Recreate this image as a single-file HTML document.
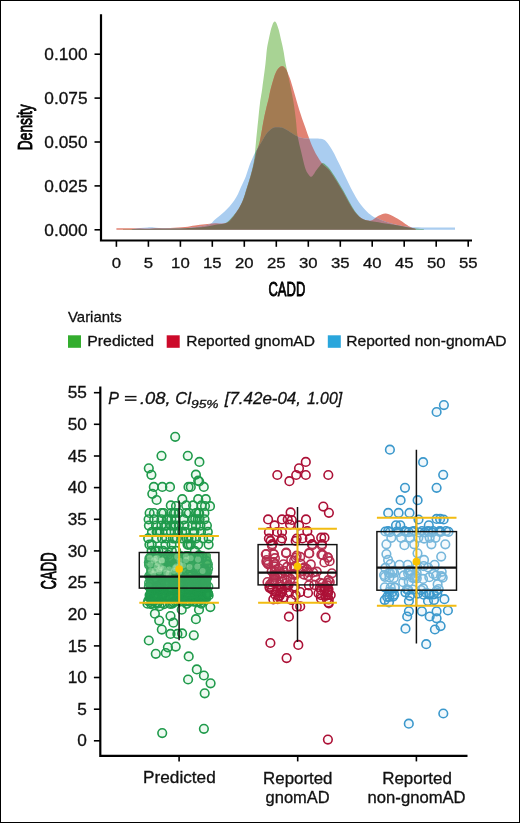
<!DOCTYPE html><html><head><meta charset="utf-8"><style>html,body{margin:0;padding:0;background:#fff;}svg{display:block;will-change:transform}</style></head><body>
<svg width="520" height="823" viewBox="0 0 520 823">
<rect x="0.5" y="0.5" width="519" height="822" fill="#fff" stroke="#000" stroke-width="1"/>
<defs><clipPath id="cg"><path d="M123.0,229.8 L123.0,229.2 C125.8,229.2 133.8,229.1 140.0,229.0 C146.2,228.9 153.3,228.8 160.0,228.7 C166.7,228.6 174.2,228.6 180.0,228.4 C185.8,228.2 190.5,228.1 195.0,227.8 C199.5,227.5 203.3,227.1 207.0,226.5 C210.7,225.9 213.7,225.2 217.0,224.5 C220.3,223.8 223.7,224.4 227.0,222.2 C230.3,219.9 234.4,214.6 237.0,211.0 C239.6,207.4 241.1,204.1 242.7,200.4 C244.3,196.7 245.2,192.8 246.5,188.8 C247.8,184.8 249.3,180.3 250.4,176.3 C251.5,172.3 252.6,168.4 253.3,164.8 C254.0,161.2 254.4,158.8 254.8,155.0 C255.2,151.2 255.4,147.6 256.0,141.8 C256.6,136.0 257.5,126.5 258.2,120.0 C258.9,113.5 259.3,108.3 260.0,103.0 C260.7,97.7 261.4,94.6 262.3,88.0 C263.2,81.4 264.8,69.9 265.5,63.6 C266.2,57.3 266.3,53.9 266.8,50.0 C267.3,46.1 267.9,43.3 268.6,40.0 C269.3,36.7 270.2,32.5 270.8,30.0 C271.4,27.5 271.9,26.4 272.3,25.2 C272.8,23.9 273.1,23.1 273.5,22.5 C273.9,21.9 274.3,21.5 274.8,21.5 C275.2,21.5 275.6,21.9 276.0,22.5 C276.4,23.1 276.7,23.9 277.2,25.2 C277.7,26.4 278.1,27.5 278.8,30.0 C279.5,32.5 280.4,36.7 281.1,40.0 C281.9,43.3 282.6,46.1 283.3,50.0 C284.1,53.9 284.7,58.9 285.6,63.6 C286.5,68.3 287.4,71.8 288.7,78.0 C290.0,84.2 292.1,94.0 293.3,101.0 C294.5,108.0 295.2,114.2 295.9,120.0 C296.6,125.8 296.6,130.5 297.5,135.8 C298.4,141.1 299.9,146.3 301.1,151.6 C302.4,156.9 303.8,163.6 305.0,167.4 C306.2,171.2 307.4,172.9 308.5,174.5 C309.6,176.1 310.4,176.9 311.3,176.8 C312.2,176.7 313.2,175.0 314.0,174.0 C314.8,173.0 315.1,172.0 316.1,170.6 C317.1,169.2 318.9,166.8 320.0,165.5 C321.1,164.2 321.7,163.2 322.6,163.1 C323.5,163.0 324.4,163.9 325.5,164.8 C326.6,165.8 327.7,166.4 329.5,168.8 C331.3,171.2 334.2,175.5 336.5,179.2 C338.8,182.9 341.1,186.8 343.4,190.8 C345.7,194.9 348.2,199.8 350.3,203.5 C352.4,207.2 354.2,210.2 356.1,212.7 C358.0,215.2 359.7,217.2 361.8,218.5 C363.9,219.8 365.1,220.1 368.5,220.8 C371.9,221.5 377.5,222.2 382.0,222.9 C386.5,223.6 391.4,224.2 395.4,224.9 C399.4,225.6 402.6,226.3 406.0,226.9 C409.4,227.5 412.6,228.1 415.6,228.5 C418.6,228.9 422.6,229.1 424.0,229.2 L424.0,229.8 Z"/></clipPath><clipPath id="cr"><path d="M116.4,229.8 L116.4,228.3 C118.7,228.3 124.4,228.2 130.0,228.2 C135.6,228.2 143.3,228.4 150.0,228.4 C156.7,228.4 164.2,228.2 170.0,228.0 C175.8,227.8 180.8,227.4 185.0,227.0 C189.2,226.6 191.7,225.9 195.0,225.5 C198.3,225.1 201.7,224.7 205.0,224.3 C208.3,223.9 211.2,223.6 215.0,223.3 C218.8,223.0 223.8,224.5 227.5,222.5 C231.2,220.5 234.5,214.8 237.1,211.2 C239.7,207.5 241.3,204.3 242.9,200.6 C244.5,196.9 245.4,193.0 246.7,189.0 C248.0,185.0 249.4,180.5 250.6,176.5 C251.8,172.5 252.6,169.1 253.6,165.0 C254.6,160.9 255.5,155.9 256.5,152.0 C257.5,148.1 258.5,147.1 259.7,141.8 C260.9,136.5 262.6,125.6 263.7,120.0 C264.8,114.4 265.4,111.7 266.3,108.0 C267.2,104.3 268.1,101.2 268.8,98.0 C269.5,94.8 269.8,92.4 270.7,89.0 C271.6,85.6 272.9,80.8 274.0,77.5 C275.1,74.2 276.2,71.4 277.5,69.5 C278.8,67.6 280.4,66.4 281.7,66.2 C283.0,66.0 284.1,66.5 285.5,68.5 C286.9,70.5 288.5,74.6 289.8,78.1 C291.1,81.6 292.2,85.8 293.3,89.6 C294.4,93.4 295.6,97.3 296.7,101.2 C297.8,105.1 299.2,109.6 300.2,112.7 C301.2,115.8 301.7,117.5 302.6,120.0 C303.5,122.5 304.6,125.4 305.5,128.0 C306.4,130.6 307.1,132.8 308.2,135.8 C309.3,138.8 310.7,142.7 312.1,146.0 C313.6,149.3 315.3,152.8 316.9,155.6 C318.5,158.4 320.2,160.9 321.6,162.7 C323.0,164.5 323.7,165.0 325.0,166.3 C326.3,167.6 327.6,168.1 329.5,170.5 C331.4,172.9 334.2,177.3 336.5,181.0 C338.8,184.7 341.1,188.5 343.4,192.5 C345.7,196.5 348.2,201.5 350.3,205.0 C352.4,208.5 354.2,211.2 356.1,213.5 C358.1,215.8 360.0,217.3 362.0,218.5 C364.0,219.7 366.2,220.3 368.0,220.6 C369.8,220.8 370.7,220.8 372.5,220.0 C374.3,219.2 376.8,216.7 379.0,215.6 C381.2,214.5 383.3,213.2 386.0,213.5 C388.7,213.8 392.7,216.2 395.4,217.5 C398.1,218.8 399.9,220.1 402.1,221.5 C404.3,222.9 406.6,224.9 408.8,226.2 C411.1,227.4 414.5,228.5 415.6,229.0 L415.6,229.8 Z"/></clipPath><clipPath id="cb"><path d="M132.0,229.8 L132.0,229.2 C133.3,229.0 137.3,228.3 140.0,228.0 C142.7,227.7 145.3,227.5 148.0,227.4 C150.7,227.3 152.3,227.5 156.0,227.7 C159.7,227.9 165.2,228.3 170.0,228.4 C174.8,228.5 180.3,228.5 185.0,228.2 C189.7,227.9 194.5,227.3 198.0,226.8 C201.5,226.3 203.8,225.9 206.0,225.3 C208.2,224.8 209.5,224.5 211.0,223.5 C212.5,222.5 213.5,220.8 215.0,219.5 C216.5,218.2 218.4,216.8 220.0,215.5 C221.6,214.2 223.0,213.0 224.6,211.5 C226.2,210.0 227.9,208.3 229.5,206.5 C231.1,204.7 232.8,202.7 234.2,200.6 C235.6,198.5 236.9,196.2 238.0,194.0 C239.1,191.8 239.7,190.0 241.0,187.1 C242.3,184.2 244.4,180.2 245.8,176.5 C247.2,172.8 248.1,168.9 249.6,165.0 C251.1,161.1 253.1,156.6 255.0,153.0 C256.9,149.4 259.0,146.4 260.8,143.3 C262.6,140.2 264.5,136.7 266.0,134.5 C267.5,132.3 268.7,131.2 270.0,130.0 C271.3,128.8 272.7,128.1 274.0,127.6 C275.3,127.1 276.5,127.1 278.0,127.2 C279.5,127.3 281.0,127.2 283.0,128.0 C285.0,128.8 287.8,130.6 290.0,131.9 C292.2,133.2 294.3,134.9 296.0,135.8 C297.7,136.7 298.5,137.1 300.0,137.5 C301.5,137.9 303.0,138.2 305.0,138.4 C307.0,138.6 309.8,138.6 312.0,138.6 C314.2,138.6 316.1,138.4 318.0,138.6 C319.9,138.8 321.9,138.9 323.5,139.6 C325.1,140.3 325.9,141.0 327.5,143.0 C329.1,145.0 331.1,148.2 333.0,151.5 C334.9,154.8 336.7,158.8 338.8,163.0 C340.9,167.2 343.2,172.3 345.5,176.9 C347.8,181.5 350.1,186.6 352.3,190.8 C354.6,195.0 356.6,198.9 359.0,202.3 C361.4,205.8 364.4,209.1 366.8,211.5 C369.2,213.9 371.5,215.5 373.4,216.7 C375.3,217.9 376.1,217.7 378.0,218.5 C379.9,219.3 382.2,220.5 385.0,221.5 C387.8,222.5 391.7,223.7 395.0,224.5 C398.3,225.3 401.7,226.0 405.0,226.5 C408.3,227.0 410.8,227.2 415.0,227.3 C419.2,227.5 423.3,227.4 430.0,227.4 C436.7,227.4 450.8,227.4 455.0,227.4 L455.0,229.8 Z"/></clipPath></defs>
<path d="M123.0,229.8 L123.0,229.2 C125.8,229.2 133.8,229.1 140.0,229.0 C146.2,228.9 153.3,228.8 160.0,228.7 C166.7,228.6 174.2,228.6 180.0,228.4 C185.8,228.2 190.5,228.1 195.0,227.8 C199.5,227.5 203.3,227.1 207.0,226.5 C210.7,225.9 213.7,225.2 217.0,224.5 C220.3,223.8 223.7,224.4 227.0,222.2 C230.3,219.9 234.4,214.6 237.0,211.0 C239.6,207.4 241.1,204.1 242.7,200.4 C244.3,196.7 245.2,192.8 246.5,188.8 C247.8,184.8 249.3,180.3 250.4,176.3 C251.5,172.3 252.6,168.4 253.3,164.8 C254.0,161.2 254.4,158.8 254.8,155.0 C255.2,151.2 255.4,147.6 256.0,141.8 C256.6,136.0 257.5,126.5 258.2,120.0 C258.9,113.5 259.3,108.3 260.0,103.0 C260.7,97.7 261.4,94.6 262.3,88.0 C263.2,81.4 264.8,69.9 265.5,63.6 C266.2,57.3 266.3,53.9 266.8,50.0 C267.3,46.1 267.9,43.3 268.6,40.0 C269.3,36.7 270.2,32.5 270.8,30.0 C271.4,27.5 271.9,26.4 272.3,25.2 C272.8,23.9 273.1,23.1 273.5,22.5 C273.9,21.9 274.3,21.5 274.8,21.5 C275.2,21.5 275.6,21.9 276.0,22.5 C276.4,23.1 276.7,23.9 277.2,25.2 C277.7,26.4 278.1,27.5 278.8,30.0 C279.5,32.5 280.4,36.7 281.1,40.0 C281.9,43.3 282.6,46.1 283.3,50.0 C284.1,53.9 284.7,58.9 285.6,63.6 C286.5,68.3 287.4,71.8 288.7,78.0 C290.0,84.2 292.1,94.0 293.3,101.0 C294.5,108.0 295.2,114.2 295.9,120.0 C296.6,125.8 296.6,130.5 297.5,135.8 C298.4,141.1 299.9,146.3 301.1,151.6 C302.4,156.9 303.8,163.6 305.0,167.4 C306.2,171.2 307.4,172.9 308.5,174.5 C309.6,176.1 310.4,176.9 311.3,176.8 C312.2,176.7 313.2,175.0 314.0,174.0 C314.8,173.0 315.1,172.0 316.1,170.6 C317.1,169.2 318.9,166.8 320.0,165.5 C321.1,164.2 321.7,163.2 322.6,163.1 C323.5,163.0 324.4,163.9 325.5,164.8 C326.6,165.8 327.7,166.4 329.5,168.8 C331.3,171.2 334.2,175.5 336.5,179.2 C338.8,182.9 341.1,186.8 343.4,190.8 C345.7,194.9 348.2,199.8 350.3,203.5 C352.4,207.2 354.2,210.2 356.1,212.7 C358.0,215.2 359.7,217.2 361.8,218.5 C363.9,219.8 365.1,220.1 368.5,220.8 C371.9,221.5 377.5,222.2 382.0,222.9 C386.5,223.6 391.4,224.2 395.4,224.9 C399.4,225.6 402.6,226.3 406.0,226.9 C409.4,227.5 412.6,228.1 415.6,228.5 C418.6,228.9 422.6,229.1 424.0,229.2 L424.0,229.8 Z" fill="#a8d394"/>
<path d="M116.4,229.8 L116.4,228.3 C118.7,228.3 124.4,228.2 130.0,228.2 C135.6,228.2 143.3,228.4 150.0,228.4 C156.7,228.4 164.2,228.2 170.0,228.0 C175.8,227.8 180.8,227.4 185.0,227.0 C189.2,226.6 191.7,225.9 195.0,225.5 C198.3,225.1 201.7,224.7 205.0,224.3 C208.3,223.9 211.2,223.6 215.0,223.3 C218.8,223.0 223.8,224.5 227.5,222.5 C231.2,220.5 234.5,214.8 237.1,211.2 C239.7,207.5 241.3,204.3 242.9,200.6 C244.5,196.9 245.4,193.0 246.7,189.0 C248.0,185.0 249.4,180.5 250.6,176.5 C251.8,172.5 252.6,169.1 253.6,165.0 C254.6,160.9 255.5,155.9 256.5,152.0 C257.5,148.1 258.5,147.1 259.7,141.8 C260.9,136.5 262.6,125.6 263.7,120.0 C264.8,114.4 265.4,111.7 266.3,108.0 C267.2,104.3 268.1,101.2 268.8,98.0 C269.5,94.8 269.8,92.4 270.7,89.0 C271.6,85.6 272.9,80.8 274.0,77.5 C275.1,74.2 276.2,71.4 277.5,69.5 C278.8,67.6 280.4,66.4 281.7,66.2 C283.0,66.0 284.1,66.5 285.5,68.5 C286.9,70.5 288.5,74.6 289.8,78.1 C291.1,81.6 292.2,85.8 293.3,89.6 C294.4,93.4 295.6,97.3 296.7,101.2 C297.8,105.1 299.2,109.6 300.2,112.7 C301.2,115.8 301.7,117.5 302.6,120.0 C303.5,122.5 304.6,125.4 305.5,128.0 C306.4,130.6 307.1,132.8 308.2,135.8 C309.3,138.8 310.7,142.7 312.1,146.0 C313.6,149.3 315.3,152.8 316.9,155.6 C318.5,158.4 320.2,160.9 321.6,162.7 C323.0,164.5 323.7,165.0 325.0,166.3 C326.3,167.6 327.6,168.1 329.5,170.5 C331.4,172.9 334.2,177.3 336.5,181.0 C338.8,184.7 341.1,188.5 343.4,192.5 C345.7,196.5 348.2,201.5 350.3,205.0 C352.4,208.5 354.2,211.2 356.1,213.5 C358.1,215.8 360.0,217.3 362.0,218.5 C364.0,219.7 366.2,220.3 368.0,220.6 C369.8,220.8 370.7,220.8 372.5,220.0 C374.3,219.2 376.8,216.7 379.0,215.6 C381.2,214.5 383.3,213.2 386.0,213.5 C388.7,213.8 392.7,216.2 395.4,217.5 C398.1,218.8 399.9,220.1 402.1,221.5 C404.3,222.9 406.6,224.9 408.8,226.2 C411.1,227.4 414.5,228.5 415.6,229.0 L415.6,229.8 Z" fill="#e18273"/>
<path d="M132.0,229.8 L132.0,229.2 C133.3,229.0 137.3,228.3 140.0,228.0 C142.7,227.7 145.3,227.5 148.0,227.4 C150.7,227.3 152.3,227.5 156.0,227.7 C159.7,227.9 165.2,228.3 170.0,228.4 C174.8,228.5 180.3,228.5 185.0,228.2 C189.7,227.9 194.5,227.3 198.0,226.8 C201.5,226.3 203.8,225.9 206.0,225.3 C208.2,224.8 209.5,224.5 211.0,223.5 C212.5,222.5 213.5,220.8 215.0,219.5 C216.5,218.2 218.4,216.8 220.0,215.5 C221.6,214.2 223.0,213.0 224.6,211.5 C226.2,210.0 227.9,208.3 229.5,206.5 C231.1,204.7 232.8,202.7 234.2,200.6 C235.6,198.5 236.9,196.2 238.0,194.0 C239.1,191.8 239.7,190.0 241.0,187.1 C242.3,184.2 244.4,180.2 245.8,176.5 C247.2,172.8 248.1,168.9 249.6,165.0 C251.1,161.1 253.1,156.6 255.0,153.0 C256.9,149.4 259.0,146.4 260.8,143.3 C262.6,140.2 264.5,136.7 266.0,134.5 C267.5,132.3 268.7,131.2 270.0,130.0 C271.3,128.8 272.7,128.1 274.0,127.6 C275.3,127.1 276.5,127.1 278.0,127.2 C279.5,127.3 281.0,127.2 283.0,128.0 C285.0,128.8 287.8,130.6 290.0,131.9 C292.2,133.2 294.3,134.9 296.0,135.8 C297.7,136.7 298.5,137.1 300.0,137.5 C301.5,137.9 303.0,138.2 305.0,138.4 C307.0,138.6 309.8,138.6 312.0,138.6 C314.2,138.6 316.1,138.4 318.0,138.6 C319.9,138.8 321.9,138.9 323.5,139.6 C325.1,140.3 325.9,141.0 327.5,143.0 C329.1,145.0 331.1,148.2 333.0,151.5 C334.9,154.8 336.7,158.8 338.8,163.0 C340.9,167.2 343.2,172.3 345.5,176.9 C347.8,181.5 350.1,186.6 352.3,190.8 C354.6,195.0 356.6,198.9 359.0,202.3 C361.4,205.8 364.4,209.1 366.8,211.5 C369.2,213.9 371.5,215.5 373.4,216.7 C375.3,217.9 376.1,217.7 378.0,218.5 C379.9,219.3 382.2,220.5 385.0,221.5 C387.8,222.5 391.7,223.7 395.0,224.5 C398.3,225.3 401.7,226.0 405.0,226.5 C408.3,227.0 410.8,227.2 415.0,227.3 C419.2,227.5 423.3,227.4 430.0,227.4 C436.7,227.4 450.8,227.4 455.0,227.4 L455.0,229.8 Z" fill="#aacdf0"/>
<path d="M116.4,229.8 L116.4,228.3 C118.7,228.3 124.4,228.2 130.0,228.2 C135.6,228.2 143.3,228.4 150.0,228.4 C156.7,228.4 164.2,228.2 170.0,228.0 C175.8,227.8 180.8,227.4 185.0,227.0 C189.2,226.6 191.7,225.9 195.0,225.5 C198.3,225.1 201.7,224.7 205.0,224.3 C208.3,223.9 211.2,223.6 215.0,223.3 C218.8,223.0 223.8,224.5 227.5,222.5 C231.2,220.5 234.5,214.8 237.1,211.2 C239.7,207.5 241.3,204.3 242.9,200.6 C244.5,196.9 245.4,193.0 246.7,189.0 C248.0,185.0 249.4,180.5 250.6,176.5 C251.8,172.5 252.6,169.1 253.6,165.0 C254.6,160.9 255.5,155.9 256.5,152.0 C257.5,148.1 258.5,147.1 259.7,141.8 C260.9,136.5 262.6,125.6 263.7,120.0 C264.8,114.4 265.4,111.7 266.3,108.0 C267.2,104.3 268.1,101.2 268.8,98.0 C269.5,94.8 269.8,92.4 270.7,89.0 C271.6,85.6 272.9,80.8 274.0,77.5 C275.1,74.2 276.2,71.4 277.5,69.5 C278.8,67.6 280.4,66.4 281.7,66.2 C283.0,66.0 284.1,66.5 285.5,68.5 C286.9,70.5 288.5,74.6 289.8,78.1 C291.1,81.6 292.2,85.8 293.3,89.6 C294.4,93.4 295.6,97.3 296.7,101.2 C297.8,105.1 299.2,109.6 300.2,112.7 C301.2,115.8 301.7,117.5 302.6,120.0 C303.5,122.5 304.6,125.4 305.5,128.0 C306.4,130.6 307.1,132.8 308.2,135.8 C309.3,138.8 310.7,142.7 312.1,146.0 C313.6,149.3 315.3,152.8 316.9,155.6 C318.5,158.4 320.2,160.9 321.6,162.7 C323.0,164.5 323.7,165.0 325.0,166.3 C326.3,167.6 327.6,168.1 329.5,170.5 C331.4,172.9 334.2,177.3 336.5,181.0 C338.8,184.7 341.1,188.5 343.4,192.5 C345.7,196.5 348.2,201.5 350.3,205.0 C352.4,208.5 354.2,211.2 356.1,213.5 C358.1,215.8 360.0,217.3 362.0,218.5 C364.0,219.7 366.2,220.3 368.0,220.6 C369.8,220.8 370.7,220.8 372.5,220.0 C374.3,219.2 376.8,216.7 379.0,215.6 C381.2,214.5 383.3,213.2 386.0,213.5 C388.7,213.8 392.7,216.2 395.4,217.5 C398.1,218.8 399.9,220.1 402.1,221.5 C404.3,222.9 406.6,224.9 408.8,226.2 C411.1,227.4 414.5,228.5 415.6,229.0 L415.6,229.8 Z" fill="#a37b52" clip-path="url(#cg)"/>
<path d="M132.0,229.8 L132.0,229.2 C133.3,229.0 137.3,228.3 140.0,228.0 C142.7,227.7 145.3,227.5 148.0,227.4 C150.7,227.3 152.3,227.5 156.0,227.7 C159.7,227.9 165.2,228.3 170.0,228.4 C174.8,228.5 180.3,228.5 185.0,228.2 C189.7,227.9 194.5,227.3 198.0,226.8 C201.5,226.3 203.8,225.9 206.0,225.3 C208.2,224.8 209.5,224.5 211.0,223.5 C212.5,222.5 213.5,220.8 215.0,219.5 C216.5,218.2 218.4,216.8 220.0,215.5 C221.6,214.2 223.0,213.0 224.6,211.5 C226.2,210.0 227.9,208.3 229.5,206.5 C231.1,204.7 232.8,202.7 234.2,200.6 C235.6,198.5 236.9,196.2 238.0,194.0 C239.1,191.8 239.7,190.0 241.0,187.1 C242.3,184.2 244.4,180.2 245.8,176.5 C247.2,172.8 248.1,168.9 249.6,165.0 C251.1,161.1 253.1,156.6 255.0,153.0 C256.9,149.4 259.0,146.4 260.8,143.3 C262.6,140.2 264.5,136.7 266.0,134.5 C267.5,132.3 268.7,131.2 270.0,130.0 C271.3,128.8 272.7,128.1 274.0,127.6 C275.3,127.1 276.5,127.1 278.0,127.2 C279.5,127.3 281.0,127.2 283.0,128.0 C285.0,128.8 287.8,130.6 290.0,131.9 C292.2,133.2 294.3,134.9 296.0,135.8 C297.7,136.7 298.5,137.1 300.0,137.5 C301.5,137.9 303.0,138.2 305.0,138.4 C307.0,138.6 309.8,138.6 312.0,138.6 C314.2,138.6 316.1,138.4 318.0,138.6 C319.9,138.8 321.9,138.9 323.5,139.6 C325.1,140.3 325.9,141.0 327.5,143.0 C329.1,145.0 331.1,148.2 333.0,151.5 C334.9,154.8 336.7,158.8 338.8,163.0 C340.9,167.2 343.2,172.3 345.5,176.9 C347.8,181.5 350.1,186.6 352.3,190.8 C354.6,195.0 356.6,198.9 359.0,202.3 C361.4,205.8 364.4,209.1 366.8,211.5 C369.2,213.9 371.5,215.5 373.4,216.7 C375.3,217.9 376.1,217.7 378.0,218.5 C379.9,219.3 382.2,220.5 385.0,221.5 C387.8,222.5 391.7,223.7 395.0,224.5 C398.3,225.3 401.7,226.0 405.0,226.5 C408.3,227.0 410.8,227.2 415.0,227.3 C419.2,227.5 423.3,227.4 430.0,227.4 C436.7,227.4 450.8,227.4 455.0,227.4 L455.0,229.8 Z" fill="#6aaa80" clip-path="url(#cg)"/>
<path d="M132.0,229.8 L132.0,229.2 C133.3,229.0 137.3,228.3 140.0,228.0 C142.7,227.7 145.3,227.5 148.0,227.4 C150.7,227.3 152.3,227.5 156.0,227.7 C159.7,227.9 165.2,228.3 170.0,228.4 C174.8,228.5 180.3,228.5 185.0,228.2 C189.7,227.9 194.5,227.3 198.0,226.8 C201.5,226.3 203.8,225.9 206.0,225.3 C208.2,224.8 209.5,224.5 211.0,223.5 C212.5,222.5 213.5,220.8 215.0,219.5 C216.5,218.2 218.4,216.8 220.0,215.5 C221.6,214.2 223.0,213.0 224.6,211.5 C226.2,210.0 227.9,208.3 229.5,206.5 C231.1,204.7 232.8,202.7 234.2,200.6 C235.6,198.5 236.9,196.2 238.0,194.0 C239.1,191.8 239.7,190.0 241.0,187.1 C242.3,184.2 244.4,180.2 245.8,176.5 C247.2,172.8 248.1,168.9 249.6,165.0 C251.1,161.1 253.1,156.6 255.0,153.0 C256.9,149.4 259.0,146.4 260.8,143.3 C262.6,140.2 264.5,136.7 266.0,134.5 C267.5,132.3 268.7,131.2 270.0,130.0 C271.3,128.8 272.7,128.1 274.0,127.6 C275.3,127.1 276.5,127.1 278.0,127.2 C279.5,127.3 281.0,127.2 283.0,128.0 C285.0,128.8 287.8,130.6 290.0,131.9 C292.2,133.2 294.3,134.9 296.0,135.8 C297.7,136.7 298.5,137.1 300.0,137.5 C301.5,137.9 303.0,138.2 305.0,138.4 C307.0,138.6 309.8,138.6 312.0,138.6 C314.2,138.6 316.1,138.4 318.0,138.6 C319.9,138.8 321.9,138.9 323.5,139.6 C325.1,140.3 325.9,141.0 327.5,143.0 C329.1,145.0 331.1,148.2 333.0,151.5 C334.9,154.8 336.7,158.8 338.8,163.0 C340.9,167.2 343.2,172.3 345.5,176.9 C347.8,181.5 350.1,186.6 352.3,190.8 C354.6,195.0 356.6,198.9 359.0,202.3 C361.4,205.8 364.4,209.1 366.8,211.5 C369.2,213.9 371.5,215.5 373.4,216.7 C375.3,217.9 376.1,217.7 378.0,218.5 C379.9,219.3 382.2,220.5 385.0,221.5 C387.8,222.5 391.7,223.7 395.0,224.5 C398.3,225.3 401.7,226.0 405.0,226.5 C408.3,227.0 410.8,227.2 415.0,227.3 C419.2,227.5 423.3,227.4 430.0,227.4 C436.7,227.4 450.8,227.4 455.0,227.4 L455.0,229.8 Z" fill="#b27d87" clip-path="url(#cr)"/>
<g clip-path="url(#cr)"><path d="M132.0,229.8 L132.0,229.2 C133.3,229.0 137.3,228.3 140.0,228.0 C142.7,227.7 145.3,227.5 148.0,227.4 C150.7,227.3 152.3,227.5 156.0,227.7 C159.7,227.9 165.2,228.3 170.0,228.4 C174.8,228.5 180.3,228.5 185.0,228.2 C189.7,227.9 194.5,227.3 198.0,226.8 C201.5,226.3 203.8,225.9 206.0,225.3 C208.2,224.8 209.5,224.5 211.0,223.5 C212.5,222.5 213.5,220.8 215.0,219.5 C216.5,218.2 218.4,216.8 220.0,215.5 C221.6,214.2 223.0,213.0 224.6,211.5 C226.2,210.0 227.9,208.3 229.5,206.5 C231.1,204.7 232.8,202.7 234.2,200.6 C235.6,198.5 236.9,196.2 238.0,194.0 C239.1,191.8 239.7,190.0 241.0,187.1 C242.3,184.2 244.4,180.2 245.8,176.5 C247.2,172.8 248.1,168.9 249.6,165.0 C251.1,161.1 253.1,156.6 255.0,153.0 C256.9,149.4 259.0,146.4 260.8,143.3 C262.6,140.2 264.5,136.7 266.0,134.5 C267.5,132.3 268.7,131.2 270.0,130.0 C271.3,128.8 272.7,128.1 274.0,127.6 C275.3,127.1 276.5,127.1 278.0,127.2 C279.5,127.3 281.0,127.2 283.0,128.0 C285.0,128.8 287.8,130.6 290.0,131.9 C292.2,133.2 294.3,134.9 296.0,135.8 C297.7,136.7 298.5,137.1 300.0,137.5 C301.5,137.9 303.0,138.2 305.0,138.4 C307.0,138.6 309.8,138.6 312.0,138.6 C314.2,138.6 316.1,138.4 318.0,138.6 C319.9,138.8 321.9,138.9 323.5,139.6 C325.1,140.3 325.9,141.0 327.5,143.0 C329.1,145.0 331.1,148.2 333.0,151.5 C334.9,154.8 336.7,158.8 338.8,163.0 C340.9,167.2 343.2,172.3 345.5,176.9 C347.8,181.5 350.1,186.6 352.3,190.8 C354.6,195.0 356.6,198.9 359.0,202.3 C361.4,205.8 364.4,209.1 366.8,211.5 C369.2,213.9 371.5,215.5 373.4,216.7 C375.3,217.9 376.1,217.7 378.0,218.5 C379.9,219.3 382.2,220.5 385.0,221.5 C387.8,222.5 391.7,223.7 395.0,224.5 C398.3,225.3 401.7,226.0 405.0,226.5 C408.3,227.0 410.8,227.2 415.0,227.3 C419.2,227.5 423.3,227.4 430.0,227.4 C436.7,227.4 450.8,227.4 455.0,227.4 L455.0,229.8 Z" fill="#756b55" clip-path="url(#cg)"/></g>
<g stroke="#000" fill="none">
<path d="M101,14.2 V240.5 H472" stroke-width="2.2"/>
<path d="M94.5,229.8 H101" stroke-width="1.6"/>
<path d="M94.5,185.9 H101" stroke-width="1.6"/>
<path d="M94.5,142.0 H101" stroke-width="1.6"/>
<path d="M94.5,98.1 H101" stroke-width="1.6"/>
<path d="M94.5,54.2 H101" stroke-width="1.6"/>
<path d="M116.4,241 V246.8" stroke-width="1.6"/>
<path d="M148.4,241 V246.8" stroke-width="1.6"/>
<path d="M180.4,241 V246.8" stroke-width="1.6"/>
<path d="M212.3,241 V246.8" stroke-width="1.6"/>
<path d="M244.3,241 V246.8" stroke-width="1.6"/>
<path d="M276.3,241 V246.8" stroke-width="1.6"/>
<path d="M308.3,241 V246.8" stroke-width="1.6"/>
<path d="M340.3,241 V246.8" stroke-width="1.6"/>
<path d="M372.2,241 V246.8" stroke-width="1.6"/>
<path d="M404.2,241 V246.8" stroke-width="1.6"/>
<path d="M436.2,241 V246.8" stroke-width="1.6"/>
<path d="M468.2,241 V246.8" stroke-width="1.6"/>
</g>
<text transform="translate(87.5,235.8) scale(1.08,1)" font-size="16" text-anchor="end" font-family="Liberation Sans" fill="#111" stroke="#111" stroke-width="0.3" >0.000</text>
<text transform="translate(87.5,191.9) scale(1.08,1)" font-size="16" text-anchor="end" font-family="Liberation Sans" fill="#111" stroke="#111" stroke-width="0.3" >0.025</text>
<text transform="translate(87.5,148.0) scale(1.08,1)" font-size="16" text-anchor="end" font-family="Liberation Sans" fill="#111" stroke="#111" stroke-width="0.3" >0.050</text>
<text transform="translate(87.5,104.1) scale(1.08,1)" font-size="16" text-anchor="end" font-family="Liberation Sans" fill="#111" stroke="#111" stroke-width="0.3" >0.075</text>
<text transform="translate(87.5,60.2) scale(1.08,1)" font-size="16" text-anchor="end" font-family="Liberation Sans" fill="#111" stroke="#111" stroke-width="0.3" >0.100</text>
<text transform="translate(116.4,268.3) scale(1.08,1)" font-size="15.5" text-anchor="middle" font-family="Liberation Sans" fill="#111" stroke="#111" stroke-width="0.3" >0</text>
<text transform="translate(148.4,268.3) scale(1.08,1)" font-size="15.5" text-anchor="middle" font-family="Liberation Sans" fill="#111" stroke="#111" stroke-width="0.3" >5</text>
<text transform="translate(180.4,268.3) scale(1.08,1)" font-size="15.5" text-anchor="middle" font-family="Liberation Sans" fill="#111" stroke="#111" stroke-width="0.3" >10</text>
<text transform="translate(212.3,268.3) scale(1.08,1)" font-size="15.5" text-anchor="middle" font-family="Liberation Sans" fill="#111" stroke="#111" stroke-width="0.3" >15</text>
<text transform="translate(244.3,268.3) scale(1.08,1)" font-size="15.5" text-anchor="middle" font-family="Liberation Sans" fill="#111" stroke="#111" stroke-width="0.3" >20</text>
<text transform="translate(276.3,268.3) scale(1.08,1)" font-size="15.5" text-anchor="middle" font-family="Liberation Sans" fill="#111" stroke="#111" stroke-width="0.3" >25</text>
<text transform="translate(308.3,268.3) scale(1.08,1)" font-size="15.5" text-anchor="middle" font-family="Liberation Sans" fill="#111" stroke="#111" stroke-width="0.3" >30</text>
<text transform="translate(340.3,268.3) scale(1.08,1)" font-size="15.5" text-anchor="middle" font-family="Liberation Sans" fill="#111" stroke="#111" stroke-width="0.3" >35</text>
<text transform="translate(372.2,268.3) scale(1.08,1)" font-size="15.5" text-anchor="middle" font-family="Liberation Sans" fill="#111" stroke="#111" stroke-width="0.3" >40</text>
<text transform="translate(404.2,268.3) scale(1.08,1)" font-size="15.5" text-anchor="middle" font-family="Liberation Sans" fill="#111" stroke="#111" stroke-width="0.3" >45</text>
<text transform="translate(436.2,268.3) scale(1.08,1)" font-size="15.5" text-anchor="middle" font-family="Liberation Sans" fill="#111" stroke="#111" stroke-width="0.3" >50</text>
<text transform="translate(468.2,268.3) scale(1.08,1)" font-size="15.5" text-anchor="middle" font-family="Liberation Sans" fill="#111" stroke="#111" stroke-width="0.3" >55</text>
<text transform="translate(32.3,127.2) rotate(-90) scale(0.672,1)" font-size="20.5" stroke="#000" stroke-width="0.9" text-anchor="middle" font-family="Liberation Sans">Density</text>
<text transform="translate(286.9,295.9) scale(0.62,1)" font-size="21" stroke="#000" stroke-width="0.9" text-anchor="middle" font-family="Liberation Sans">CADD</text>
<text transform="translate(68,322) scale(0.995,1)" font-size="15" text-anchor="start" font-family="Liberation Sans" fill="#111" stroke="#111" stroke-width="0.3" >Variants</text>
<rect x="68" y="335.3" width="13" height="12.5" fill="#33ad2e"/>
<rect x="166.7" y="335.3" width="13" height="12.5" fill="#cc0a2a"/>
<rect x="327.8" y="335.3" width="13" height="12.5" fill="#2aa6dc"/>
<text transform="translate(87.3,345.8) scale(1.054,1)" font-size="15" text-anchor="start" font-family="Liberation Sans" fill="#111" stroke="#111" stroke-width="0.3" >Predicted</text>
<text transform="translate(186.2,345.8) scale(1.037,1)" font-size="15" text-anchor="start" font-family="Liberation Sans" fill="#111" stroke="#111" stroke-width="0.3" >Reported gnomAD</text>
<text transform="translate(346.2,345.8) scale(1.041,1)" font-size="15" text-anchor="start" font-family="Liberation Sans" fill="#111" stroke="#111" stroke-width="0.3" >Reported non-gnomAD</text>
<g stroke="#000" fill="none">
<path d="M100.3,386.4 V755.9 H467.5" stroke-width="2.2"/>
<path d="M93.9,740.8 H100" stroke-width="1.6"/>
<path d="M93.9,709.2 H100" stroke-width="1.6"/>
<path d="M93.9,677.5 H100" stroke-width="1.6"/>
<path d="M93.9,645.9 H100" stroke-width="1.6"/>
<path d="M93.9,614.2 H100" stroke-width="1.6"/>
<path d="M93.9,582.6 H100" stroke-width="1.6"/>
<path d="M93.9,550.9 H100" stroke-width="1.6"/>
<path d="M93.9,519.3 H100" stroke-width="1.6"/>
<path d="M93.9,487.6 H100" stroke-width="1.6"/>
<path d="M93.9,456.0 H100" stroke-width="1.6"/>
<path d="M93.9,424.3 H100" stroke-width="1.6"/>
<path d="M93.9,392.7 H100" stroke-width="1.6"/>
<path d="M179.1,756.5 V761.4" stroke-width="1.6"/>
<path d="M297.7,756.5 V761.4" stroke-width="1.6"/>
<path d="M416.4,756.5 V761.4" stroke-width="1.6"/>
</g>
<text transform="translate(86.9,746.4) scale(1.08,1)" font-size="16" text-anchor="end" font-family="Liberation Sans" fill="#111" stroke="#111" stroke-width="0.3" >0</text>
<text transform="translate(86.9,714.8) scale(1.08,1)" font-size="16" text-anchor="end" font-family="Liberation Sans" fill="#111" stroke="#111" stroke-width="0.3" >5</text>
<text transform="translate(86.9,683.1) scale(1.08,1)" font-size="16" text-anchor="end" font-family="Liberation Sans" fill="#111" stroke="#111" stroke-width="0.3" >10</text>
<text transform="translate(86.9,651.5) scale(1.08,1)" font-size="16" text-anchor="end" font-family="Liberation Sans" fill="#111" stroke="#111" stroke-width="0.3" >15</text>
<text transform="translate(86.9,619.8) scale(1.08,1)" font-size="16" text-anchor="end" font-family="Liberation Sans" fill="#111" stroke="#111" stroke-width="0.3" >20</text>
<text transform="translate(86.9,588.2) scale(1.08,1)" font-size="16" text-anchor="end" font-family="Liberation Sans" fill="#111" stroke="#111" stroke-width="0.3" >25</text>
<text transform="translate(86.9,556.5) scale(1.08,1)" font-size="16" text-anchor="end" font-family="Liberation Sans" fill="#111" stroke="#111" stroke-width="0.3" >30</text>
<text transform="translate(86.9,524.9) scale(1.08,1)" font-size="16" text-anchor="end" font-family="Liberation Sans" fill="#111" stroke="#111" stroke-width="0.3" >35</text>
<text transform="translate(86.9,493.2) scale(1.08,1)" font-size="16" text-anchor="end" font-family="Liberation Sans" fill="#111" stroke="#111" stroke-width="0.3" >40</text>
<text transform="translate(86.9,461.6) scale(1.08,1)" font-size="16" text-anchor="end" font-family="Liberation Sans" fill="#111" stroke="#111" stroke-width="0.3" >45</text>
<text transform="translate(86.9,429.9) scale(1.08,1)" font-size="16" text-anchor="end" font-family="Liberation Sans" fill="#111" stroke="#111" stroke-width="0.3" >50</text>
<text transform="translate(86.9,398.3) scale(1.08,1)" font-size="16" text-anchor="end" font-family="Liberation Sans" fill="#111" stroke="#111" stroke-width="0.3" >55</text>
<text transform="translate(55.8,570.9) rotate(-90) scale(0.6,1)" font-size="21.8" stroke="#000" stroke-width="0.9" text-anchor="middle" font-family="Liberation Sans">CADD</text>
<g fill="rgba(140,220,160,0.15)" stroke="none"><circle cx="175.2" cy="436.8" r="4.3"/><circle cx="161.5" cy="455.8" r="4.3"/><circle cx="187.8" cy="455.8" r="4.3"/><circle cx="199.4" cy="461.9" r="4.3"/><circle cx="148.8" cy="468.3" r="4.3"/><circle cx="151.4" cy="474.8" r="4.3"/><circle cx="195.9" cy="474.7" r="4.3"/><circle cx="198.2" cy="480.7" r="4.3"/><circle cx="153.8" cy="486.9" r="4.3"/><circle cx="162.3" cy="486.9" r="4.3"/><circle cx="170.0" cy="486.9" r="4.3"/><circle cx="188.5" cy="486.9" r="4.3"/><circle cx="190.8" cy="486.9" r="4.3"/><circle cx="203.8" cy="486.9" r="4.3"/><circle cx="199.2" cy="481.5" r="4.3"/><circle cx="152.3" cy="493.8" r="4.3"/><circle cx="156.6" cy="500.0" r="4.3"/><circle cx="182.3" cy="499.2" r="4.3"/><circle cx="198.2" cy="499.2" r="4.3"/><circle cx="205.8" cy="499.2" r="4.3"/><circle cx="170.8" cy="505.4" r="4.3"/><circle cx="186.2" cy="505.4" r="4.3"/><circle cx="193.1" cy="505.4" r="4.3"/><circle cx="201.5" cy="505.4" r="4.3"/><circle cx="210.0" cy="506.2" r="4.3"/><circle cx="176.0" cy="506.0" r="4.3"/><circle cx="205.0" cy="506.0" r="4.3"/><circle cx="147.5" cy="603.7" r="4.3"/><circle cx="159.6" cy="606.2" r="4.3"/><circle cx="181.7" cy="609.7" r="4.3"/><circle cx="199.0" cy="609.7" r="4.3"/><circle cx="210.3" cy="607.1" r="4.3"/><circle cx="154.9" cy="613.7" r="4.3"/><circle cx="170.5" cy="616.1" r="4.3"/><circle cx="159.2" cy="620.6" r="4.3"/><circle cx="173.4" cy="622.7" r="4.3"/><circle cx="195.9" cy="619.2" r="4.3"/><circle cx="161.8" cy="629.6" r="4.3"/><circle cx="170.5" cy="633.9" r="4.3"/><circle cx="177.4" cy="633.9" r="4.3"/><circle cx="182.1" cy="633.4" r="4.3"/><circle cx="193.8" cy="635.3" r="4.3"/><circle cx="148.8" cy="640.5" r="4.3"/><circle cx="167.9" cy="647.3" r="4.3"/><circle cx="175.7" cy="646.6" r="4.3"/><circle cx="155.8" cy="653.8" r="4.3"/><circle cx="165.8" cy="653.0" r="4.3"/><circle cx="188.7" cy="656.4" r="4.3"/><circle cx="196.8" cy="669.4" r="4.3"/><circle cx="203.9" cy="675.5" r="4.3"/><circle cx="188.1" cy="679.5" r="4.3"/><circle cx="210.6" cy="683.3" r="4.3"/><circle cx="204.7" cy="693.3" r="4.3"/><circle cx="162.2" cy="733.1" r="4.3"/><circle cx="203.9" cy="728.8" r="4.3"/><circle cx="149.6" cy="513.0" r="4.3"/><circle cx="153.9" cy="513.0" r="4.3"/><circle cx="161.5" cy="513.0" r="4.3"/><circle cx="163.6" cy="513.0" r="4.3"/><circle cx="171.1" cy="513.0" r="4.3"/><circle cx="175.3" cy="513.0" r="4.3"/><circle cx="178.8" cy="513.0" r="4.3"/><circle cx="186.2" cy="513.0" r="4.3"/><circle cx="188.9" cy="513.0" r="4.3"/><circle cx="196.0" cy="513.0" r="4.3"/><circle cx="199.2" cy="513.0" r="4.3"/><circle cx="204.4" cy="513.0" r="4.3"/><circle cx="173.9" cy="513.0" r="4.3"/><circle cx="198.4" cy="513.0" r="4.3"/><circle cx="148.6" cy="519.3" r="4.3"/><circle cx="154.2" cy="519.3" r="4.3"/><circle cx="161.4" cy="519.3" r="4.3"/><circle cx="168.1" cy="519.3" r="4.3"/><circle cx="171.3" cy="519.3" r="4.3"/><circle cx="175.4" cy="519.3" r="4.3"/><circle cx="183.5" cy="519.3" r="4.3"/><circle cx="183.8" cy="519.3" r="4.3"/><circle cx="193.0" cy="519.3" r="4.3"/><circle cx="195.2" cy="519.3" r="4.3"/><circle cx="199.6" cy="519.3" r="4.3"/><circle cx="204.5" cy="519.3" r="4.3"/><circle cx="166.8" cy="519.3" r="4.3"/><circle cx="197.8" cy="519.3" r="4.3"/><circle cx="148.9" cy="525.6" r="4.3"/><circle cx="156.0" cy="525.6" r="4.3"/><circle cx="161.4" cy="525.6" r="4.3"/><circle cx="165.1" cy="525.6" r="4.3"/><circle cx="171.1" cy="525.6" r="4.3"/><circle cx="173.7" cy="525.6" r="4.3"/><circle cx="178.8" cy="525.6" r="4.3"/><circle cx="184.6" cy="525.6" r="4.3"/><circle cx="192.1" cy="525.6" r="4.3"/><circle cx="195.9" cy="525.6" r="4.3"/><circle cx="200.4" cy="525.6" r="4.3"/><circle cx="206.9" cy="525.6" r="4.3"/><circle cx="175.6" cy="525.6" r="4.3"/><circle cx="166.3" cy="525.6" r="4.3"/><circle cx="152.0" cy="531.9" r="4.3"/><circle cx="156.6" cy="531.9" r="4.3"/><circle cx="159.4" cy="531.9" r="4.3"/><circle cx="166.2" cy="531.9" r="4.3"/><circle cx="171.0" cy="531.9" r="4.3"/><circle cx="177.9" cy="531.9" r="4.3"/><circle cx="182.2" cy="531.9" r="4.3"/><circle cx="185.0" cy="531.9" r="4.3"/><circle cx="193.6" cy="531.9" r="4.3"/><circle cx="194.4" cy="531.9" r="4.3"/><circle cx="201.0" cy="531.9" r="4.3"/><circle cx="207.8" cy="531.9" r="4.3"/><circle cx="157.3" cy="531.9" r="4.3"/><circle cx="177.8" cy="531.9" r="4.3"/><circle cx="148.2" cy="538.3" r="4.3"/><circle cx="156.5" cy="538.3" r="4.3"/><circle cx="162.1" cy="538.3" r="4.3"/><circle cx="166.2" cy="538.3" r="4.3"/><circle cx="172.8" cy="538.3" r="4.3"/><circle cx="175.0" cy="538.3" r="4.3"/><circle cx="182.0" cy="538.3" r="4.3"/><circle cx="186.6" cy="538.3" r="4.3"/><circle cx="191.6" cy="538.3" r="4.3"/><circle cx="196.1" cy="538.3" r="4.3"/><circle cx="203.1" cy="538.3" r="4.3"/><circle cx="208.7" cy="538.3" r="4.3"/><circle cx="176.9" cy="538.3" r="4.3"/><circle cx="188.5" cy="538.3" r="4.3"/><circle cx="151.7" cy="544.6" r="4.3"/><circle cx="190.8" cy="544.6" r="4.3"/><circle cx="187.5" cy="544.6" r="4.3"/><circle cx="208.6" cy="544.6" r="4.3"/><circle cx="198.1" cy="544.6" r="4.3"/><circle cx="165.4" cy="544.6" r="4.3"/><circle cx="171.5" cy="544.6" r="4.3"/><circle cx="188.8" cy="544.6" r="4.3"/><circle cx="149.4" cy="544.6" r="4.3"/><circle cx="176.2" cy="550.9" r="4.3"/><circle cx="158.3" cy="550.9" r="4.3"/><circle cx="155.1" cy="550.9" r="4.3"/><circle cx="151.6" cy="550.9" r="4.3"/><circle cx="194.9" cy="550.9" r="4.3"/><circle cx="155.9" cy="550.9" r="4.3"/><circle cx="163.1" cy="550.9" r="4.3"/><circle cx="171.8" cy="550.9" r="4.3"/><circle cx="201.2" cy="603.7" r="4.3"/><circle cx="200.7" cy="602.7" r="4.3"/><circle cx="173.3" cy="602.3" r="4.3"/><circle cx="157.2" cy="603.2" r="4.3"/><circle cx="162.1" cy="602.9" r="4.3"/><circle cx="164.0" cy="604.1" r="4.3"/><circle cx="173.6" cy="602.2" r="4.3"/><circle cx="196.7" cy="602.1" r="4.3"/><circle cx="172.3" cy="603.6" r="4.3"/><circle cx="186.7" cy="603.8" r="4.3"/><circle cx="152.1" cy="603.0" r="4.3"/><circle cx="157.9" cy="602.4" r="4.3"/><circle cx="151.2" cy="604.1" r="4.3"/><circle cx="157.2" cy="603.6" r="4.3"/><circle cx="170.2" cy="604.0" r="4.3"/></g>
<rect x="146" y="553" width="65" height="49" rx="3" fill="#22a04e"/><rect x="146" y="553" width="65" height="21" rx="3" fill="#3aae58"/>
<g fill="none" stroke="#1f9a4b" stroke-width="1.6"><circle cx="175.2" cy="436.8" r="4.3"/><circle cx="161.5" cy="455.8" r="4.3"/><circle cx="187.8" cy="455.8" r="4.3"/><circle cx="199.4" cy="461.9" r="4.3"/><circle cx="148.8" cy="468.3" r="4.3"/><circle cx="151.4" cy="474.8" r="4.3"/><circle cx="195.9" cy="474.7" r="4.3"/><circle cx="198.2" cy="480.7" r="4.3"/><circle cx="153.8" cy="486.9" r="4.3"/><circle cx="162.3" cy="486.9" r="4.3"/><circle cx="170.0" cy="486.9" r="4.3"/><circle cx="188.5" cy="486.9" r="4.3"/><circle cx="190.8" cy="486.9" r="4.3"/><circle cx="203.8" cy="486.9" r="4.3"/><circle cx="199.2" cy="481.5" r="4.3"/><circle cx="152.3" cy="493.8" r="4.3"/><circle cx="156.6" cy="500.0" r="4.3"/><circle cx="182.3" cy="499.2" r="4.3"/><circle cx="198.2" cy="499.2" r="4.3"/><circle cx="205.8" cy="499.2" r="4.3"/><circle cx="170.8" cy="505.4" r="4.3"/><circle cx="186.2" cy="505.4" r="4.3"/><circle cx="193.1" cy="505.4" r="4.3"/><circle cx="201.5" cy="505.4" r="4.3"/><circle cx="210.0" cy="506.2" r="4.3"/><circle cx="176.0" cy="506.0" r="4.3"/><circle cx="205.0" cy="506.0" r="4.3"/><circle cx="147.5" cy="603.7" r="4.3"/><circle cx="159.6" cy="606.2" r="4.3"/><circle cx="181.7" cy="609.7" r="4.3"/><circle cx="199.0" cy="609.7" r="4.3"/><circle cx="210.3" cy="607.1" r="4.3"/><circle cx="154.9" cy="613.7" r="4.3"/><circle cx="170.5" cy="616.1" r="4.3"/><circle cx="159.2" cy="620.6" r="4.3"/><circle cx="173.4" cy="622.7" r="4.3"/><circle cx="195.9" cy="619.2" r="4.3"/><circle cx="161.8" cy="629.6" r="4.3"/><circle cx="170.5" cy="633.9" r="4.3"/><circle cx="177.4" cy="633.9" r="4.3"/><circle cx="182.1" cy="633.4" r="4.3"/><circle cx="193.8" cy="635.3" r="4.3"/><circle cx="148.8" cy="640.5" r="4.3"/><circle cx="167.9" cy="647.3" r="4.3"/><circle cx="175.7" cy="646.6" r="4.3"/><circle cx="155.8" cy="653.8" r="4.3"/><circle cx="165.8" cy="653.0" r="4.3"/><circle cx="188.7" cy="656.4" r="4.3"/><circle cx="196.8" cy="669.4" r="4.3"/><circle cx="203.9" cy="675.5" r="4.3"/><circle cx="188.1" cy="679.5" r="4.3"/><circle cx="210.6" cy="683.3" r="4.3"/><circle cx="204.7" cy="693.3" r="4.3"/><circle cx="162.2" cy="733.1" r="4.3"/><circle cx="203.9" cy="728.8" r="4.3"/><circle cx="149.6" cy="513.0" r="4.3"/><circle cx="153.9" cy="513.0" r="4.3"/><circle cx="161.5" cy="513.0" r="4.3"/><circle cx="163.6" cy="513.0" r="4.3"/><circle cx="171.1" cy="513.0" r="4.3"/><circle cx="175.3" cy="513.0" r="4.3"/><circle cx="178.8" cy="513.0" r="4.3"/><circle cx="186.2" cy="513.0" r="4.3"/><circle cx="188.9" cy="513.0" r="4.3"/><circle cx="196.0" cy="513.0" r="4.3"/><circle cx="199.2" cy="513.0" r="4.3"/><circle cx="204.4" cy="513.0" r="4.3"/><circle cx="173.9" cy="513.0" r="4.3"/><circle cx="198.4" cy="513.0" r="4.3"/><circle cx="148.6" cy="519.3" r="4.3"/><circle cx="154.2" cy="519.3" r="4.3"/><circle cx="161.4" cy="519.3" r="4.3"/><circle cx="168.1" cy="519.3" r="4.3"/><circle cx="171.3" cy="519.3" r="4.3"/><circle cx="175.4" cy="519.3" r="4.3"/><circle cx="183.5" cy="519.3" r="4.3"/><circle cx="183.8" cy="519.3" r="4.3"/><circle cx="193.0" cy="519.3" r="4.3"/><circle cx="195.2" cy="519.3" r="4.3"/><circle cx="199.6" cy="519.3" r="4.3"/><circle cx="204.5" cy="519.3" r="4.3"/><circle cx="166.8" cy="519.3" r="4.3"/><circle cx="197.8" cy="519.3" r="4.3"/><circle cx="148.9" cy="525.6" r="4.3"/><circle cx="156.0" cy="525.6" r="4.3"/><circle cx="161.4" cy="525.6" r="4.3"/><circle cx="165.1" cy="525.6" r="4.3"/><circle cx="171.1" cy="525.6" r="4.3"/><circle cx="173.7" cy="525.6" r="4.3"/><circle cx="178.8" cy="525.6" r="4.3"/><circle cx="184.6" cy="525.6" r="4.3"/><circle cx="192.1" cy="525.6" r="4.3"/><circle cx="195.9" cy="525.6" r="4.3"/><circle cx="200.4" cy="525.6" r="4.3"/><circle cx="206.9" cy="525.6" r="4.3"/><circle cx="175.6" cy="525.6" r="4.3"/><circle cx="166.3" cy="525.6" r="4.3"/><circle cx="152.0" cy="531.9" r="4.3"/><circle cx="156.6" cy="531.9" r="4.3"/><circle cx="159.4" cy="531.9" r="4.3"/><circle cx="166.2" cy="531.9" r="4.3"/><circle cx="171.0" cy="531.9" r="4.3"/><circle cx="177.9" cy="531.9" r="4.3"/><circle cx="182.2" cy="531.9" r="4.3"/><circle cx="185.0" cy="531.9" r="4.3"/><circle cx="193.6" cy="531.9" r="4.3"/><circle cx="194.4" cy="531.9" r="4.3"/><circle cx="201.0" cy="531.9" r="4.3"/><circle cx="207.8" cy="531.9" r="4.3"/><circle cx="157.3" cy="531.9" r="4.3"/><circle cx="177.8" cy="531.9" r="4.3"/><circle cx="148.2" cy="538.3" r="4.3"/><circle cx="156.5" cy="538.3" r="4.3"/><circle cx="162.1" cy="538.3" r="4.3"/><circle cx="166.2" cy="538.3" r="4.3"/><circle cx="172.8" cy="538.3" r="4.3"/><circle cx="175.0" cy="538.3" r="4.3"/><circle cx="182.0" cy="538.3" r="4.3"/><circle cx="186.6" cy="538.3" r="4.3"/><circle cx="191.6" cy="538.3" r="4.3"/><circle cx="196.1" cy="538.3" r="4.3"/><circle cx="203.1" cy="538.3" r="4.3"/><circle cx="208.7" cy="538.3" r="4.3"/><circle cx="176.9" cy="538.3" r="4.3"/><circle cx="188.5" cy="538.3" r="4.3"/><circle cx="151.7" cy="544.6" r="4.3"/><circle cx="190.8" cy="544.6" r="4.3"/><circle cx="187.5" cy="544.6" r="4.3"/><circle cx="208.6" cy="544.6" r="4.3"/><circle cx="198.1" cy="544.6" r="4.3"/><circle cx="165.4" cy="544.6" r="4.3"/><circle cx="171.5" cy="544.6" r="4.3"/><circle cx="188.8" cy="544.6" r="4.3"/><circle cx="149.4" cy="544.6" r="4.3"/><circle cx="176.2" cy="550.9" r="4.3"/><circle cx="158.3" cy="550.9" r="4.3"/><circle cx="155.1" cy="550.9" r="4.3"/><circle cx="151.6" cy="550.9" r="4.3"/><circle cx="194.9" cy="550.9" r="4.3"/><circle cx="155.9" cy="550.9" r="4.3"/><circle cx="163.1" cy="550.9" r="4.3"/><circle cx="171.8" cy="550.9" r="4.3"/><circle cx="201.2" cy="603.7" r="4.3"/><circle cx="175.4" cy="601.3" r="4.3"/><circle cx="201.9" cy="599.9" r="4.3"/><circle cx="200.7" cy="602.7" r="4.3"/><circle cx="173.3" cy="602.3" r="4.3"/><circle cx="201.9" cy="599.2" r="4.3"/><circle cx="157.2" cy="603.2" r="4.3"/><circle cx="162.1" cy="602.9" r="4.3"/><circle cx="177.6" cy="601.1" r="4.3"/><circle cx="164.0" cy="604.1" r="4.3"/><circle cx="173.6" cy="602.2" r="4.3"/><circle cx="182.5" cy="599.3" r="4.3"/><circle cx="190.1" cy="601.5" r="4.3"/><circle cx="185.7" cy="600.7" r="4.3"/><circle cx="151.3" cy="599.5" r="4.3"/><circle cx="195.6" cy="599.7" r="4.3"/><circle cx="196.7" cy="602.1" r="4.3"/><circle cx="172.3" cy="603.6" r="4.3"/><circle cx="186.7" cy="603.8" r="4.3"/><circle cx="152.1" cy="603.0" r="4.3"/><circle cx="157.9" cy="602.4" r="4.3"/><circle cx="151.2" cy="604.1" r="4.3"/><circle cx="157.2" cy="603.6" r="4.3"/><circle cx="170.2" cy="604.0" r="4.3"/><circle cx="201.3" cy="594.7" r="4.3"/><circle cx="157.1" cy="596.5" r="4.3"/><circle cx="169.2" cy="595.9" r="4.3"/><circle cx="155.5" cy="593.5" r="4.3"/><circle cx="208.6" cy="595.4" r="4.3"/><circle cx="177.5" cy="597.3" r="4.3"/><circle cx="154.2" cy="596.0" r="4.3"/><circle cx="164.2" cy="593.6" r="4.3"/><circle cx="157.8" cy="597.6" r="4.3"/><circle cx="206.0" cy="595.1" r="4.3"/><circle cx="156.9" cy="595.0" r="4.3"/><circle cx="149.6" cy="595.1" r="4.3"/><circle cx="207.7" cy="593.4" r="4.3"/><circle cx="190.5" cy="596.4" r="4.3"/><circle cx="170.4" cy="596.9" r="4.3"/><circle cx="195.1" cy="595.1" r="4.3"/><circle cx="195.5" cy="596.1" r="4.3"/><circle cx="161.6" cy="593.7" r="4.3"/><circle cx="208.1" cy="593.4" r="4.3"/><circle cx="197.2" cy="593.6" r="4.3"/><circle cx="193.1" cy="596.6" r="4.3"/><circle cx="179.6" cy="596.0" r="4.3"/><circle cx="149.8" cy="597.6" r="4.3"/><circle cx="165.0" cy="596.5" r="4.3"/><circle cx="190.2" cy="586.6" r="4.3"/><circle cx="175.3" cy="586.7" r="4.3"/><circle cx="208.3" cy="586.6" r="4.3"/><circle cx="170.2" cy="590.3" r="4.3"/><circle cx="161.8" cy="590.4" r="4.3"/><circle cx="160.5" cy="588.3" r="4.3"/><circle cx="202.9" cy="587.2" r="4.3"/><circle cx="177.2" cy="588.1" r="4.3"/><circle cx="196.8" cy="591.0" r="4.3"/><circle cx="188.3" cy="586.8" r="4.3"/><circle cx="195.7" cy="587.6" r="4.3"/><circle cx="177.2" cy="590.5" r="4.3"/><circle cx="196.1" cy="589.8" r="4.3"/><circle cx="196.9" cy="586.5" r="4.3"/><circle cx="172.1" cy="589.4" r="4.3"/><circle cx="205.8" cy="587.8" r="4.3"/><circle cx="158.4" cy="590.8" r="4.3"/><circle cx="157.2" cy="586.9" r="4.3"/><circle cx="197.2" cy="590.7" r="4.3"/><circle cx="198.4" cy="586.5" r="4.3"/><circle cx="188.1" cy="589.7" r="4.3"/><circle cx="181.5" cy="590.8" r="4.3"/><circle cx="148.9" cy="586.5" r="4.3"/><circle cx="187.6" cy="588.8" r="4.3"/><circle cx="205.0" cy="582.9" r="4.3"/><circle cx="201.2" cy="580.9" r="4.3"/><circle cx="160.9" cy="583.8" r="4.3"/><circle cx="165.9" cy="583.9" r="4.3"/><circle cx="183.8" cy="583.8" r="4.3"/><circle cx="173.6" cy="584.4" r="4.3"/><circle cx="203.5" cy="583.3" r="4.3"/><circle cx="175.9" cy="582.2" r="4.3"/><circle cx="203.2" cy="583.0" r="4.3"/><circle cx="204.0" cy="582.6" r="4.3"/><circle cx="180.4" cy="582.5" r="4.3"/><circle cx="149.1" cy="582.9" r="4.3"/><circle cx="159.2" cy="585.1" r="4.3"/><circle cx="196.7" cy="584.2" r="4.3"/><circle cx="176.9" cy="581.4" r="4.3"/><circle cx="181.9" cy="583.5" r="4.3"/><circle cx="179.6" cy="582.3" r="4.3"/><circle cx="195.8" cy="584.6" r="4.3"/><circle cx="182.2" cy="583.8" r="4.3"/><circle cx="164.9" cy="581.2" r="4.3"/><circle cx="179.0" cy="582.3" r="4.3"/><circle cx="194.4" cy="580.5" r="4.3"/><circle cx="175.0" cy="582.0" r="4.3"/><circle cx="178.8" cy="582.5" r="4.3"/><circle cx="190.3" cy="576.5" r="4.3"/><circle cx="180.5" cy="576.4" r="4.3"/><circle cx="205.4" cy="575.2" r="4.3"/><circle cx="201.5" cy="574.0" r="4.3"/><circle cx="163.8" cy="575.9" r="4.3"/><circle cx="205.5" cy="574.5" r="4.3"/><circle cx="156.4" cy="578.2" r="4.3"/><circle cx="175.0" cy="578.4" r="4.3"/><circle cx="162.7" cy="578.4" r="4.3"/><circle cx="188.8" cy="574.8" r="4.3"/><circle cx="202.7" cy="578.0" r="4.3"/><circle cx="191.7" cy="575.4" r="4.3"/><circle cx="156.7" cy="574.3" r="4.3"/><circle cx="207.0" cy="577.7" r="4.3"/><circle cx="206.1" cy="576.8" r="4.3"/><circle cx="177.7" cy="573.8" r="4.3"/><circle cx="198.8" cy="578.0" r="4.3"/><circle cx="174.3" cy="576.2" r="4.3"/><circle cx="168.7" cy="577.8" r="4.3"/><circle cx="167.4" cy="575.1" r="4.3"/><circle cx="149.2" cy="576.0" r="4.3"/><circle cx="174.9" cy="578.7" r="4.3"/><circle cx="168.2" cy="575.6" r="4.3"/><circle cx="179.2" cy="578.5" r="4.3"/><circle cx="208.1" cy="568.5" r="4.3"/><circle cx="207.3" cy="571.9" r="4.3"/><circle cx="164.2" cy="572.2" r="4.3"/><circle cx="195.5" cy="571.1" r="4.3"/><circle cx="155.9" cy="570.3" r="4.3"/><circle cx="203.6" cy="568.3" r="4.3"/><circle cx="163.8" cy="571.7" r="4.3"/><circle cx="204.1" cy="569.6" r="4.3"/><circle cx="190.7" cy="572.0" r="4.3"/><circle cx="151.5" cy="569.0" r="4.3"/><circle cx="173.9" cy="572.1" r="4.3"/><circle cx="205.2" cy="569.2" r="4.3"/><circle cx="196.9" cy="572.0" r="4.3"/><circle cx="200.2" cy="572.1" r="4.3"/><circle cx="200.6" cy="570.2" r="4.3"/><circle cx="168.7" cy="569.6" r="4.3"/><circle cx="204.5" cy="571.1" r="4.3"/><circle cx="155.9" cy="569.8" r="4.3"/><circle cx="162.5" cy="571.9" r="4.3"/><circle cx="157.8" cy="572.2" r="4.3"/><circle cx="160.3" cy="570.9" r="4.3"/><circle cx="166.6" cy="568.6" r="4.3"/><circle cx="165.7" cy="569.9" r="4.3"/><circle cx="158.9" cy="570.7" r="4.3"/><circle cx="149.1" cy="564.9" r="4.3"/><circle cx="148.9" cy="562.4" r="4.3"/><circle cx="181.6" cy="565.2" r="4.3"/><circle cx="177.0" cy="561.4" r="4.3"/><circle cx="154.5" cy="562.0" r="4.3"/><circle cx="174.4" cy="563.6" r="4.3"/><circle cx="198.9" cy="564.1" r="4.3"/><circle cx="178.9" cy="562.6" r="4.3"/><circle cx="207.9" cy="564.4" r="4.3"/><circle cx="198.8" cy="562.5" r="4.3"/><circle cx="186.8" cy="564.1" r="4.3"/><circle cx="169.2" cy="565.8" r="4.3"/><circle cx="155.9" cy="565.8" r="4.3"/><circle cx="193.2" cy="564.8" r="4.3"/><circle cx="158.0" cy="565.7" r="4.3"/><circle cx="199.3" cy="561.7" r="4.3"/><circle cx="188.9" cy="564.7" r="4.3"/><circle cx="162.8" cy="564.6" r="4.3"/><circle cx="176.0" cy="565.3" r="4.3"/><circle cx="175.2" cy="564.8" r="4.3"/><circle cx="206.7" cy="561.2" r="4.3"/><circle cx="181.4" cy="564.9" r="4.3"/><circle cx="206.9" cy="564.6" r="4.3"/><circle cx="169.8" cy="566.1" r="4.3"/><circle cx="171.3" cy="557.4" r="4.3"/><circle cx="178.7" cy="558.8" r="4.3"/><circle cx="178.8" cy="559.8" r="4.3"/><circle cx="164.1" cy="559.3" r="4.3"/><circle cx="172.4" cy="559.6" r="4.3"/><circle cx="149.4" cy="558.3" r="4.3"/><circle cx="162.2" cy="556.8" r="4.3"/><circle cx="180.3" cy="556.0" r="4.3"/><circle cx="188.1" cy="556.2" r="4.3"/><circle cx="201.6" cy="557.8" r="4.3"/><circle cx="167.9" cy="554.8" r="4.3"/><circle cx="157.1" cy="556.1" r="4.3"/><circle cx="187.2" cy="559.6" r="4.3"/><circle cx="199.0" cy="555.3" r="4.3"/><circle cx="186.3" cy="556.1" r="4.3"/><circle cx="197.5" cy="559.1" r="4.3"/><circle cx="179.9" cy="557.2" r="4.3"/><circle cx="198.9" cy="555.7" r="4.3"/><circle cx="198.4" cy="556.8" r="4.3"/><circle cx="202.5" cy="556.3" r="4.3"/><circle cx="190.3" cy="558.6" r="4.3"/><circle cx="149.9" cy="559.1" r="4.3"/><circle cx="170.0" cy="559.3" r="4.3"/><circle cx="199.0" cy="557.0" r="4.3"/><circle cx="186.3" cy="601.2" r="4.3"/><circle cx="189.5" cy="601.6" r="4.3"/><circle cx="148.2" cy="600.8" r="4.3"/><circle cx="193.6" cy="601.6" r="4.3"/><circle cx="180.6" cy="601.2" r="4.3"/><circle cx="152.0" cy="601.0" r="4.3"/></g>
<g fill="rgba(205,245,200,0.33)" stroke="none"><circle cx="179.3" cy="571.9" r="3.0"/><circle cx="179.6" cy="560.8" r="3.0"/><circle cx="149.8" cy="557.7" r="3.0"/><circle cx="163.4" cy="568.8" r="3.0"/><circle cx="161.7" cy="560.2" r="3.0"/><circle cx="160.8" cy="567.2" r="3.0"/><circle cx="169.2" cy="569.5" r="3.0"/><circle cx="175.0" cy="568.0" r="3.0"/><circle cx="151.0" cy="571.1" r="3.0"/><circle cx="156.7" cy="566.2" r="3.0"/><circle cx="159.3" cy="569.3" r="3.0"/><circle cx="153.6" cy="560.5" r="3.0"/><circle cx="155.1" cy="558.8" r="3.0"/><circle cx="176.2" cy="566.4" r="3.0"/><circle cx="157.8" cy="563.1" r="3.0"/><circle cx="179.8" cy="565.1" r="3.0"/><circle cx="154.6" cy="570.6" r="3.0"/><circle cx="168.6" cy="573.8" r="3.0"/><circle cx="150.4" cy="564.5" r="3.0"/><circle cx="174.0" cy="571.1" r="3.0"/><circle cx="177.2" cy="556.7" r="3.0"/><circle cx="156.7" cy="558.1" r="3.0"/><circle cx="153.3" cy="573.5" r="3.0"/><circle cx="166.2" cy="572.7" r="3.0"/><circle cx="159.3" cy="571.6" r="3.0"/><circle cx="161.8" cy="560.7" r="3.0"/><circle cx="202.6" cy="571.1" r="3.0"/><circle cx="183.1" cy="565.5" r="3.0"/><circle cx="198.0" cy="559.5" r="3.0"/><circle cx="190.7" cy="558.3" r="3.0"/><circle cx="185.9" cy="560.1" r="3.0"/><circle cx="197.4" cy="566.4" r="3.0"/><circle cx="185.9" cy="556.2" r="3.0"/><circle cx="189.5" cy="566.9" r="3.0"/></g>
<g fill="rgba(230,120,130,0.03)" stroke="#ac1036" stroke-width="1.6"><circle cx="305.8" cy="461.9" r="4.3"/><circle cx="299.0" cy="468.3" r="4.3"/><circle cx="277.3" cy="475.0" r="4.3"/><circle cx="296.2" cy="475.0" r="4.3"/><circle cx="305.8" cy="475.0" r="4.3"/><circle cx="328.3" cy="475.0" r="4.3"/><circle cx="289.4" cy="481.2" r="4.3"/><circle cx="323.3" cy="506.6" r="4.3"/><circle cx="328.9" cy="512.8" r="4.3"/><circle cx="290.6" cy="512.4" r="4.3"/><circle cx="268.1" cy="519.4" r="4.3"/><circle cx="282.0" cy="519.4" r="4.3"/><circle cx="287.7" cy="519.4" r="4.3"/><circle cx="291.8" cy="520.0" r="4.3"/><circle cx="306.0" cy="519.4" r="4.3"/><circle cx="274.6" cy="525.4" r="4.3"/><circle cx="290.1" cy="524.6" r="4.3"/><circle cx="299.1" cy="525.4" r="4.3"/><circle cx="268.9" cy="532.0" r="4.3"/><circle cx="277.1" cy="532.0" r="4.3"/><circle cx="282.0" cy="532.0" r="4.3"/><circle cx="307.3" cy="531.2" r="4.3"/><circle cx="268.9" cy="538.5" r="4.3"/><circle cx="282.0" cy="538.5" r="4.3"/><circle cx="296.7" cy="538.5" r="4.3"/><circle cx="302.4" cy="538.5" r="4.3"/><circle cx="309.8" cy="538.5" r="4.3"/><circle cx="321.2" cy="537.7" r="4.3"/><circle cx="324.5" cy="537.7" r="4.3"/><circle cx="272.2" cy="544.2" r="4.3"/><circle cx="312.2" cy="544.2" r="4.3"/><circle cx="322.0" cy="544.2" r="4.3"/><circle cx="266.4" cy="554.0" r="4.3"/><circle cx="273.8" cy="554.0" r="4.3"/><circle cx="286.1" cy="553.2" r="4.3"/><circle cx="296.7" cy="555.7" r="4.3"/><circle cx="309.0" cy="553.2" r="4.3"/><circle cx="322.8" cy="554.9" r="4.3"/><circle cx="327.7" cy="557.3" r="4.3"/><circle cx="288.9" cy="616.7" r="4.3"/><circle cx="325.6" cy="617.6" r="4.3"/><circle cx="270.4" cy="643.0" r="4.3"/><circle cx="298.3" cy="644.9" r="4.3"/><circle cx="286.6" cy="658.1" r="4.3"/><circle cx="327.9" cy="739.6" r="4.3"/><circle cx="296.8" cy="606.7" r="4.3"/><circle cx="328.4" cy="602.5" r="4.3"/><circle cx="270.6" cy="540.9" r="4.3"/><circle cx="281.0" cy="540.9" r="4.3"/><circle cx="295.7" cy="540.9" r="4.3"/><circle cx="271.9" cy="545.6" r="4.3"/><circle cx="265.8" cy="554.3" r="4.3"/><circle cx="273.6" cy="554.3" r="4.3"/><circle cx="286.2" cy="552.6" r="4.3"/><circle cx="295.7" cy="557.7" r="4.3"/><circle cx="274.9" cy="558.2" r="4.3"/><circle cx="312.3" cy="545.2" r="4.3"/><circle cx="321.8" cy="545.6" r="4.3"/><circle cx="300.2" cy="556.9" r="4.3"/><circle cx="309.3" cy="553.4" r="4.3"/><circle cx="321.4" cy="554.7" r="4.3"/><circle cx="327.9" cy="557.7" r="4.3"/><circle cx="329.6" cy="561.2" r="4.3"/><circle cx="324.4" cy="562.5" r="4.3"/><circle cx="308.0" cy="593.0" r="4.3"/><circle cx="300.2" cy="592.1" r="4.3"/><circle cx="321.0" cy="589.9" r="4.3"/><circle cx="324.4" cy="589.9" r="4.3"/><circle cx="327.9" cy="590.8" r="4.3"/><circle cx="321.0" cy="595.1" r="4.3"/><circle cx="325.3" cy="596.0" r="4.3"/><circle cx="321.0" cy="598.6" r="4.3"/><circle cx="328.8" cy="599.4" r="4.3"/><circle cx="328.8" cy="603.3" r="4.3"/><circle cx="300.2" cy="606.4" r="4.3"/><circle cx="273.6" cy="562.2" r="4.3"/><circle cx="274.0" cy="581.9" r="4.3"/><circle cx="272.2" cy="582.2" r="4.3"/><circle cx="295.3" cy="574.8" r="4.3"/><circle cx="277.5" cy="574.4" r="4.3"/><circle cx="286.5" cy="583.0" r="4.3"/><circle cx="284.5" cy="579.3" r="4.3"/><circle cx="268.3" cy="564.4" r="4.3"/><circle cx="273.6" cy="582.3" r="4.3"/><circle cx="275.1" cy="577.0" r="4.3"/><circle cx="266.4" cy="561.8" r="4.3"/><circle cx="274.1" cy="580.2" r="4.3"/><circle cx="286.8" cy="580.3" r="4.3"/><circle cx="274.7" cy="575.5" r="4.3"/><circle cx="279.9" cy="574.0" r="4.3"/><circle cx="269.6" cy="586.8" r="4.3"/><circle cx="272.0" cy="589.3" r="4.3"/><circle cx="294.1" cy="560.5" r="4.3"/><circle cx="279.8" cy="584.6" r="4.3"/><circle cx="295.0" cy="573.5" r="4.3"/><circle cx="274.1" cy="566.3" r="4.3"/><circle cx="294.4" cy="566.3" r="4.3"/><circle cx="283.4" cy="564.3" r="4.3"/><circle cx="281.7" cy="588.6" r="4.3"/><circle cx="270.0" cy="584.6" r="4.3"/><circle cx="281.3" cy="586.6" r="4.3"/><circle cx="287.1" cy="566.9" r="4.3"/><circle cx="292.9" cy="574.6" r="4.3"/><circle cx="266.7" cy="560.1" r="4.3"/><circle cx="280.8" cy="573.5" r="4.3"/><circle cx="275.1" cy="564.2" r="4.3"/><circle cx="276.3" cy="569.5" r="4.3"/><circle cx="291.2" cy="560.1" r="4.3"/><circle cx="288.5" cy="585.2" r="4.3"/><circle cx="269.6" cy="587.8" r="4.3"/><circle cx="287.4" cy="587.0" r="4.3"/><circle cx="274.7" cy="571.2" r="4.3"/><circle cx="277.8" cy="590.0" r="4.3"/><circle cx="283.7" cy="570.8" r="4.3"/><circle cx="278.8" cy="568.3" r="4.3"/><circle cx="267.4" cy="563.1" r="4.3"/><circle cx="291.0" cy="568.6" r="4.3"/><circle cx="294.1" cy="567.5" r="4.3"/><circle cx="274.0" cy="575.3" r="4.3"/><circle cx="271.7" cy="571.2" r="4.3"/><circle cx="294.7" cy="586.5" r="4.3"/><circle cx="290.4" cy="578.9" r="4.3"/><circle cx="293.4" cy="588.2" r="4.3"/><circle cx="282.5" cy="581.6" r="4.3"/><circle cx="267.5" cy="582.0" r="4.3"/><circle cx="283.7" cy="597.5" r="4.3"/><circle cx="288.8" cy="592.9" r="4.3"/><circle cx="273.3" cy="599.3" r="4.3"/><circle cx="275.3" cy="594.7" r="4.3"/><circle cx="280.9" cy="593.0" r="4.3"/><circle cx="291.2" cy="599.8" r="4.3"/><circle cx="278.8" cy="596.6" r="4.3"/><circle cx="279.8" cy="595.6" r="4.3"/><circle cx="282.3" cy="591.7" r="4.3"/><circle cx="276.2" cy="592.1" r="4.3"/><circle cx="295.6" cy="595.0" r="4.3"/><circle cx="277.7" cy="599.1" r="4.3"/><circle cx="331.9" cy="573.3" r="4.3"/><circle cx="304.5" cy="567.4" r="4.3"/><circle cx="302.9" cy="570.9" r="4.3"/><circle cx="302.9" cy="568.5" r="4.3"/><circle cx="308.3" cy="576.1" r="4.3"/><circle cx="328.4" cy="580.2" r="4.3"/><circle cx="313.2" cy="572.5" r="4.3"/><circle cx="316.8" cy="571.7" r="4.3"/><circle cx="310.8" cy="564.4" r="4.3"/><circle cx="308.9" cy="585.3" r="4.3"/><circle cx="304.0" cy="574.6" r="4.3"/><circle cx="320.1" cy="582.8" r="4.3"/><circle cx="306.9" cy="569.2" r="4.3"/><circle cx="308.0" cy="572.2" r="4.3"/><circle cx="314.3" cy="584.9" r="4.3"/><circle cx="327.2" cy="583.1" r="4.3"/><circle cx="300.7" cy="563.7" r="4.3"/><circle cx="322.7" cy="583.6" r="4.3"/><circle cx="315.1" cy="576.5" r="4.3"/><circle cx="300.0" cy="572.0" r="4.3"/><circle cx="329.7" cy="582.0" r="4.3"/><circle cx="327.4" cy="585.4" r="4.3"/><circle cx="320.0" cy="587.5" r="4.3"/><circle cx="318.5" cy="593.3" r="4.3"/><circle cx="326.9" cy="599.2" r="4.3"/><circle cx="327.5" cy="595.1" r="4.3"/><circle cx="328.2" cy="592.4" r="4.3"/><circle cx="324.8" cy="586.6" r="4.3"/><circle cx="328.5" cy="589.3" r="4.3"/><circle cx="330.7" cy="595.0" r="4.3"/></g>
<g fill="rgba(120,190,230,0.10)" stroke="#3b98cc" stroke-width="1.6"><circle cx="443.9" cy="405.1" r="4.3"/><circle cx="436.6" cy="412.0" r="4.3"/><circle cx="389.9" cy="449.7" r="4.3"/><circle cx="423.1" cy="462.2" r="4.3"/><circle cx="443.2" cy="474.8" r="4.3"/><circle cx="405.0" cy="487.8" r="4.3"/><circle cx="436.6" cy="487.8" r="4.3"/><circle cx="400.6" cy="500.2" r="4.3"/><circle cx="417.6" cy="500.2" r="4.3"/><circle cx="388.2" cy="512.9" r="4.3"/><circle cx="398.6" cy="512.9" r="4.3"/><circle cx="409.5" cy="512.9" r="4.3"/><circle cx="418.5" cy="519.5" r="4.3"/><circle cx="436.6" cy="518.9" r="4.3"/><circle cx="440.1" cy="518.9" r="4.3"/><circle cx="443.6" cy="519.5" r="4.3"/><circle cx="396.0" cy="525.3" r="4.3"/><circle cx="400.3" cy="525.3" r="4.3"/><circle cx="428.8" cy="525.3" r="4.3"/><circle cx="388.2" cy="531.1" r="4.3"/><circle cx="404.6" cy="531.1" r="4.3"/><circle cx="414.1" cy="531.1" r="4.3"/><circle cx="422.0" cy="531.1" r="4.3"/><circle cx="428.0" cy="531.1" r="4.3"/><circle cx="433.0" cy="531.1" r="4.3"/><circle cx="440.0" cy="531.1" r="4.3"/><circle cx="446.0" cy="531.1" r="4.3"/><circle cx="384.7" cy="600.1" r="4.3"/><circle cx="389.0" cy="602.3" r="4.3"/><circle cx="408.9" cy="601.0" r="4.3"/><circle cx="428.0" cy="601.0" r="4.3"/><circle cx="434.0" cy="600.1" r="4.3"/><circle cx="444.4" cy="599.2" r="4.3"/><circle cx="421.9" cy="611.3" r="4.3"/><circle cx="408.9" cy="611.3" r="4.3"/><circle cx="447.9" cy="610.5" r="4.3"/><circle cx="436.6" cy="611.3" r="4.3"/><circle cx="407.2" cy="616.5" r="4.3"/><circle cx="429.7" cy="616.5" r="4.3"/><circle cx="436.6" cy="618.3" r="4.3"/><circle cx="405.5" cy="628.7" r="4.3"/><circle cx="434.9" cy="629.5" r="4.3"/><circle cx="440.6" cy="626.1" r="4.3"/><circle cx="426.2" cy="644.2" r="4.3"/><circle cx="408.8" cy="723.7" r="4.3"/><circle cx="443.3" cy="713.5" r="4.3"/><circle cx="385.4" cy="531.5" r="4.3"/><circle cx="389.9" cy="532.1" r="4.3"/><circle cx="396.7" cy="531.5" r="4.3"/><circle cx="398.5" cy="532.0" r="4.3"/><circle cx="405.6" cy="531.8" r="4.3"/><circle cx="408.6" cy="532.1" r="4.3"/><circle cx="412.3" cy="531.7" r="4.3"/><circle cx="419.2" cy="532.5" r="4.3"/><circle cx="424.8" cy="532.4" r="4.3"/><circle cx="428.7" cy="531.6" r="4.3"/><circle cx="432.3" cy="532.5" r="4.3"/><circle cx="439.2" cy="531.7" r="4.3"/><circle cx="440.7" cy="531.9" r="4.3"/><circle cx="448.5" cy="531.8" r="4.3"/><circle cx="391.3" cy="537.8" r="4.3"/><circle cx="401.1" cy="537.8" r="4.3"/><circle cx="410.1" cy="537.8" r="4.3"/><circle cx="418.3" cy="537.8" r="4.3"/><circle cx="424.0" cy="538.6" r="4.3"/><circle cx="429.7" cy="537.8" r="4.3"/><circle cx="435.5" cy="537.8" r="4.3"/><circle cx="386.4" cy="544.3" r="4.3"/><circle cx="404.4" cy="545.2" r="4.3"/><circle cx="414.2" cy="544.3" r="4.3"/><circle cx="431.4" cy="544.3" r="4.3"/><circle cx="445.3" cy="544.3" r="4.3"/><circle cx="386.4" cy="554.1" r="4.3"/><circle cx="417.5" cy="553.3" r="4.3"/><circle cx="441.2" cy="556.6" r="4.3"/><circle cx="388.1" cy="559.9" r="4.3"/><circle cx="424.0" cy="559.9" r="4.3"/><circle cx="434.6" cy="564.8" r="4.3"/><circle cx="390.5" cy="564.0" r="4.3"/><circle cx="399.5" cy="564.8" r="4.3"/><circle cx="407.7" cy="564.8" r="4.3"/><circle cx="390.7" cy="587.4" r="4.3"/><circle cx="408.1" cy="573.3" r="4.3"/><circle cx="384.9" cy="576.8" r="4.3"/><circle cx="394.9" cy="587.8" r="4.3"/><circle cx="389.2" cy="591.5" r="4.3"/><circle cx="403.2" cy="582.2" r="4.3"/><circle cx="389.3" cy="597.0" r="4.3"/><circle cx="392.1" cy="592.2" r="4.3"/><circle cx="390.0" cy="573.1" r="4.3"/><circle cx="403.8" cy="575.4" r="4.3"/><circle cx="408.8" cy="581.9" r="4.3"/><circle cx="388.9" cy="573.1" r="4.3"/><circle cx="394.8" cy="587.3" r="4.3"/><circle cx="408.7" cy="570.7" r="4.3"/><circle cx="394.2" cy="572.8" r="4.3"/><circle cx="409.3" cy="570.5" r="4.3"/><circle cx="385.3" cy="567.9" r="4.3"/><circle cx="394.2" cy="594.7" r="4.3"/><circle cx="407.0" cy="589.4" r="4.3"/><circle cx="409.9" cy="595.8" r="4.3"/><circle cx="392.6" cy="571.9" r="4.3"/><circle cx="408.3" cy="589.9" r="4.3"/><circle cx="384.8" cy="587.3" r="4.3"/><circle cx="393.8" cy="578.0" r="4.3"/><circle cx="392.6" cy="571.4" r="4.3"/><circle cx="384.1" cy="575.0" r="4.3"/><circle cx="393.1" cy="596.6" r="4.3"/><circle cx="387.2" cy="596.9" r="4.3"/><circle cx="389.4" cy="577.4" r="4.3"/><circle cx="405.4" cy="592.3" r="4.3"/><circle cx="428.1" cy="567.5" r="4.3"/><circle cx="429.3" cy="577.2" r="4.3"/><circle cx="441.7" cy="571.8" r="4.3"/><circle cx="426.2" cy="592.9" r="4.3"/><circle cx="416.8" cy="578.3" r="4.3"/><circle cx="438.7" cy="589.0" r="4.3"/><circle cx="417.1" cy="567.0" r="4.3"/><circle cx="417.8" cy="593.6" r="4.3"/><circle cx="423.2" cy="588.4" r="4.3"/><circle cx="441.2" cy="576.2" r="4.3"/><circle cx="423.6" cy="594.7" r="4.3"/><circle cx="433.3" cy="573.9" r="4.3"/><circle cx="436.1" cy="575.5" r="4.3"/><circle cx="423.7" cy="566.1" r="4.3"/><circle cx="437.2" cy="593.5" r="4.3"/><circle cx="433.8" cy="594.3" r="4.3"/><circle cx="416.7" cy="573.0" r="4.3"/><circle cx="429.3" cy="594.7" r="4.3"/><circle cx="442.7" cy="577.6" r="4.3"/><circle cx="423.0" cy="578.9" r="4.3"/><circle cx="429.8" cy="593.8" r="4.3"/><circle cx="421.1" cy="590.1" r="4.3"/><circle cx="436.7" cy="590.7" r="4.3"/><circle cx="437.6" cy="584.2" r="4.3"/><circle cx="412.6" cy="578.0" r="4.3"/><circle cx="412.9" cy="589.6" r="4.3"/><circle cx="410.6" cy="574.9" r="4.3"/><circle cx="416.0" cy="576.2" r="4.3"/><circle cx="410.5" cy="570.8" r="4.3"/><circle cx="414.4" cy="578.1" r="4.3"/></g>
<path d="M179.1,500.5 V552.5 M179.1,588.1 V640.3" stroke="#111" stroke-width="1.5" fill="none"/>
<rect x="139.3" y="552.5" width="79.6" height="35.6" fill="#fff" fill-opacity="0.1" stroke="#111" stroke-width="1.45"/>
<path d="M139.3,576.7 H218.9" stroke="#111" stroke-width="2.3"/>
<path d="M139.3,535.9 H218.9 M139.3,602.7 H218.9 M179.1,535.9 V602.7" stroke="#f2bc12" stroke-width="2" fill="none"/>
<circle cx="179.1" cy="569.1" r="3.85" fill="#f9c200"/>
<path d="M297.5,507.1 V544.6 M297.5,584.9 V642.1" stroke="#111" stroke-width="1.5" fill="none"/>
<rect x="258.1" y="544.6" width="78.8" height="40.3" fill="#fff" fill-opacity="0.12" stroke="#111" stroke-width="1.45"/>
<path d="M258.1,572.7 H336.9" stroke="#111" stroke-width="2.3"/>
<path d="M258.1,528.8 H336.9 M258.1,602.7 H336.9 M297.5,528.8 V602.7" stroke="#f2bc12" stroke-width="2" fill="none"/>
<circle cx="297.5" cy="566.3" r="3.85" fill="#f9c200"/>
<path d="M416.4,449.7 V531.6 M416.4,590.2 V643.4" stroke="#111" stroke-width="1.5" fill="none"/>
<rect x="376.9" y="531.6" width="79.6" height="58.6" fill="#fff" fill-opacity="0.3" stroke="#111" stroke-width="1.45"/>
<path d="M376.9,567.7 H456.5" stroke="#111" stroke-width="2.3"/>
<path d="M376.9,517.7 H456.5 M376.9,605.8 H456.5 M416.4,517.7 V605.8" stroke="#f2bc12" stroke-width="2" fill="none"/>
<circle cx="416.4" cy="561.7" r="3.85" fill="#f9c200"/>
<text transform="translate(108.2,403.5) scale(1.0,1)" font-size="16" text-anchor="start" font-family="Liberation Sans" fill="#111" stroke="#111" stroke-width="0.3" font-style="italic">P</text>
<rect x="124.9" y="395.9" width="11.6" height="1.45" fill="#111"/><rect x="124.9" y="399.4" width="11.6" height="1.45" fill="#111"/>
<text transform="translate(140.0,403.5) scale(1.15,1)" font-size="16" text-anchor="start" font-family="Liberation Sans" fill="#111" stroke="#111" stroke-width="0.3" font-style="italic">.08,</text>
<text transform="translate(175.2,403.5) scale(1.03,1)" font-size="16" text-anchor="start" font-family="Liberation Sans" fill="#111" stroke="#111" stroke-width="0.3" font-style="italic">CI</text>
<text transform="translate(191.0,407.5) scale(1.25,1)" font-size="11" text-anchor="start" font-family="Liberation Sans" fill="#111" stroke="#111" stroke-width="0.3" font-style="italic">95%</text>
<text transform="translate(224.7,403.5) scale(1.06,1)" font-size="16" text-anchor="start" font-family="Liberation Sans" fill="#111" stroke="#111" stroke-width="0.3" font-style="italic">[7.42e-04,</text>
<text transform="translate(306.9,403.5) scale(0.99,1)" font-size="16" text-anchor="start" font-family="Liberation Sans" fill="#111" stroke="#111" stroke-width="0.3" font-style="italic">1.00]</text>
<text transform="translate(179.4,783.4) scale(1.075,1)" font-size="16" text-anchor="middle" font-family="Liberation Sans" fill="#111" stroke="#111" stroke-width="0.3" >Predicted</text>
<text transform="translate(297.8,784) scale(1.055,1)" font-size="16" text-anchor="middle" font-family="Liberation Sans" fill="#111" stroke="#111" stroke-width="0.3" >Reported</text>
<text transform="translate(297.6,803.3) scale(1.03,1)" font-size="16" text-anchor="middle" font-family="Liberation Sans" fill="#111" stroke="#111" stroke-width="0.3" >gnomAD</text>
<text transform="translate(417.0,784) scale(1.06,1)" font-size="16" text-anchor="middle" font-family="Liberation Sans" fill="#111" stroke="#111" stroke-width="0.3" >Reported</text>
<text transform="translate(416.6,803.3) scale(1.04,1)" font-size="16" text-anchor="middle" font-family="Liberation Sans" fill="#111" stroke="#111" stroke-width="0.3" >non-gnomAD</text>
</svg></body></html>
